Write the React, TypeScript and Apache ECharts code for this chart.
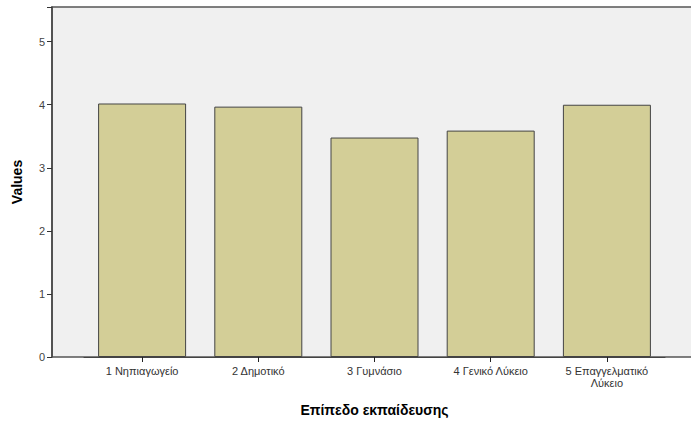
import React, { useEffect, useRef } from "react";
import * as echarts from "echarts";

const categories = ["1 Νηπιαγωγείο", "2 Δημοτικό", "3 Γυμνάσιο", "4 Γενικό Λύκειο", "5 Επαγγελματικό\nΛύκειο"];
const values = [4.02, 3.97, 3.48, 3.59, 4.0];
const yTicks = [0, 1, 2, 3, 4, 5];

export default function App() {
  const ref = useRef<HTMLDivElement>(null);
  useEffect(() => {
    if (!ref.current) return;
    const chart = echarts.init(ref.current, null, { renderer: "svg" });
    const font = "'Liberation Sans', Arial, sans-serif";
    chart.setOption({
      animation: false,
      backgroundColor: "#ffffff",
      textStyle: { fontFamily: font },
      grid: { left: 84, right: 26, top: 7, bottom: 71, containLabel: false },
      graphic: [
        {
          type: "rect",
          z: -10,
          silent: true,
          shape: { x: 52, y: 7, width: 700, height: 350 },
          style: { fill: "#f0f0f0", stroke: "#555555", lineWidth: 1.5 },
        },
      ],
      xAxis: {
        type: "category",
        data: categories,
        name: "Επίπεδο εκπαίδευσης",
        nameLocation: "middle",
        nameGap: 46,
        nameTextStyle: { fontFamily: font, fontSize: 14, fontWeight: "bold", color: "#000" },
        axisLine: { show: true, lineStyle: { color: "#444", width: 1 } },
        axisTick: { show: true, alignWithLabel: true, length: 5, lineStyle: { color: "#222" } },
        axisLabel: { fontFamily: font, fontSize: 11, color: "#333", margin: 8, interval: 0, lineHeight: 12 },
        splitLine: { show: false },
      },
      yAxis: {
        type: "value",
        min: 0,
        max: 5.55,
        interval: 1,
        offset: 32,
        name: "Values",
        nameLocation: "middle",
        nameGap: 28,
        nameTextStyle: { fontFamily: font, fontSize: 14, fontWeight: "bold", color: "#000" },
        axisLine: { show: true, lineStyle: { color: "#444", width: 1.5 } },
        axisTick: { show: true, length: 5, lineStyle: { color: "#333" } },
        axisLabel: {
          fontFamily: font,
          fontSize: 11,
          color: "#444",
          margin: 7,
          formatter: (v: number) => (yTicks.includes(v) ? String(v) : ""),
        },
        splitLine: { show: false },
      },
      series: [
        {
          type: "bar",
          data: values,
          barWidth: 88,
          itemStyle: { color: "#d3ce97", borderColor: "#444", borderWidth: 1 },
        },
      ],
    });
    return () => chart.dispose();
  }, []);
  return <div ref={ref} style={{ position: "absolute", left: 0, top: 0, width: 691, height: 428 }} />;
}
